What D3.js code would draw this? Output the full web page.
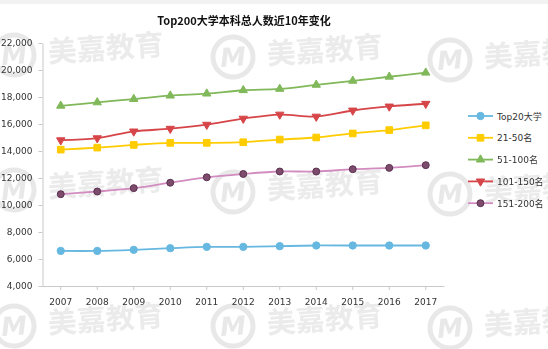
<!DOCTYPE html>
<html>
<head>
<meta charset="utf-8">
<script src="https://cdn.jsdelivr.net/npm/d3@7"></script>
<style>
  body { margin: 0; background: #fff; }
  .axis text { font-family: "DejaVu Sans", sans-serif; font-size: 9px; fill: #333; }
  .axis path, .axis line { stroke: #c9c9c9; }
</style>
</head>
<body>
<div id="chart"></div>
<script>
// categories and series
var years = ["2007", "2008", "2009", "2010", "2011", "2012", "2013", "2014", "2015", "2016", "2017"];
var seriesNames = ["Top20大学", "21-50名", "51-100名", "101-150名", "151-200名"];
var top20 = [6600, 6600, 6680, 6800, 6900, 6900, 6950, 7000, 7000, 7000, 7000];
var rank21to50 = [14100, 14250, 14450, 14600, 14600, 14650, 14850, 15000, 15300, 15550, 15900];
var rank51to100 = [17350, 17600, 17850, 18100, 18250, 18500, 18600, 18900, 19200, 19500, 19800];
var rank101to150 = [14800, 14950, 15450, 15650, 15950, 16400, 16700, 16550, 17000, 17300, 17500];
var rank151to200 = [10800, 11000, 11250, 11650, 12050, 12300, 12480, 12480, 12650, 12750, 12950];
var yTicks = [4000, 6000, 8000, 10000, 12000, 14000, 16000, 18000, 20000, 22000];

var W = 548, H = 349;
var margin = {top: 43, left: 42.5, right: 104, bottom: 62};
var plotW = W - margin.left - margin.right,
    plotH = H - margin.top - margin.bottom - 1;

var svg = d3.select("#chart").append("svg")
    .attr("width", W)
    .attr("height", H);

// thin grey strip along the top edge
svg.append("rect").attr("x", 0).attr("y", 0).attr("width", W).attr("height", 4).attr("fill", "#f2f2f2");

// watermark tiles, clipped to the page
svg.append("clipPath").attr("id", "page")
    .append("rect").attr("width", W).attr("height", H);
var marks = [[14, 55], [233, 57], [450, 60], [14, 190], [233, 192], [450, 194], [14, 326], [233, 326], [450, 328]];
var wm = svg.append("g").attr("clip-path", "url(#page)").attr("opacity", 0.42);
marks.forEach(function(p) {
    var g = wm.append("g").attr("transform", "translate(" + p[0] + "," + p[1] + ") rotate(-4)");
    g.append("circle").attr("r", 20).attr("fill", "none").attr("stroke", "#c8c8c8").attr("stroke-width", 5);
    g.append("text").attr("x", 0).attr("y", 9)
        .attr("text-anchor", "middle")
        .style("font-family", "'DejaVu Sans', sans-serif").style("font-weight", "bold").style("font-style", "italic")
        .style("font-size", "26px").attr("fill", "#c8c8c8").text("M");
    g.append("text").attr("x", 34).attr("y", 10)
        .style("font-family", "'Noto Sans CJK SC', sans-serif").style("font-weight", "bold")
        .style("font-size", "29px").attr("fill", "#cfcfcf").text("美嘉教育");
});

var chart = svg.append("g")
    .attr("transform", "translate(" + margin.left + "," + margin.top + ")");

var x = d3.scaleBand().domain(years).range([0, plotW]);
var y = d3.scaleLinear().domain([4000, 22000]).range([plotH, 0]);

chart.append("g")
    .attr("class", "axis")
    .attr("transform", "translate(0," + plotH + ")")
    .call(d3.axisBottom(x).tickSize(4).tickSizeOuter(0).tickPadding(9));

chart.append("g")
    .attr("class", "axis")
    .call(d3.axisLeft(y).tickValues(yTicks).tickFormat(d3.format(",")).tickSize(4).tickSizeOuter(0).tickPadding(6));

var series = [
    {name: seriesNames[0], values: top20, line: "#66b8e0", fill: "#66b8e0", stroke: "#66b8e0", shape: d3.symbolCircle, size: 42},
    {name: seriesNames[1], values: rank21to50, line: "#ffcc00", fill: "#ffcc00", stroke: "#ffcc00", shape: d3.symbolSquare, size: 44},
    {name: seriesNames[2], values: rank51to100, line: "#80b85a", fill: "#80b85a", stroke: "#80b85a", shape: d3.symbolTriangle, size: 30},
    {name: seriesNames[3], values: rank101to150, line: "#d64548", fill: "#d64548", stroke: "#d64548", shape: d3.symbolTriangle, size: 30, flip: true},
    {name: seriesNames[4], values: rank151to200, line: "#d28cc0", fill: "#7d4c6c", stroke: "#5a3050", shape: d3.symbolCircle, size: 38}
];

var line = d3.line()
    .x(function(d, i) { return x(years[i]) + x.bandwidth() / 2; })
    .y(function(d) { return y(d); })
    .curve(d3.curveCatmullRom.alpha(0.5));

function marker(sel, s) {
    sel.attr("d", d3.symbol().type(s.shape).size(s.size))
        .attr("fill", s.fill)
        .attr("stroke", s.stroke)
        .attr("stroke-width", 1);
}

series.forEach(function(s) {
    chart.append("path")
        .datum(s.values)
        .attr("fill", "none")
        .attr("stroke", s.line)
        .attr("stroke-width", 1.8)
        .attr("d", line);

    chart.selectAll(null)
        .data(s.values)
        .enter().append("path")
        .attr("transform", function(d, i) {
            return "translate(" + (x(years[i]) + x.bandwidth() / 2) + "," + y(d) + ")" + (s.flip ? " rotate(180)" : "");
        })
        .call(marker, s);
});

// title
svg.append("text")
    .attr("x", 244)
    .attr("y", 24.5)
    .attr("text-anchor", "middle")
    .style("font-family", "'Noto Sans CJK SC', sans-serif")
    .style("font-weight", "bold")
    .style("font-size", "11px")
    .attr("fill", "#111")
    .text("Top200大学本科总人数近10年变化");

// legend
var legend = svg.append("g").attr("transform", "translate(468,116)");
series.forEach(function(s, i) {
    var g = legend.append("g").attr("transform", "translate(0," + (i * 21.8) + ")");
    g.append("line").attr("x1", 0).attr("x2", 25).attr("y1", 0).attr("y2", 0)
        .attr("stroke", s.line).attr("stroke-width", 1.8);
    g.append("path")
        .attr("transform", "translate(12.5,0)" + (s.flip ? " rotate(180)" : ""))
        .call(marker, s);
    g.append("text").attr("x", 29).attr("y", 3.5)
        .style("font-family", "'DejaVu Sans', 'Noto Sans CJK SC', sans-serif")
        .style("font-size", "9px")
        .attr("fill", "#333")
        .text(s.name);
});
</script>
</body>
</html>
